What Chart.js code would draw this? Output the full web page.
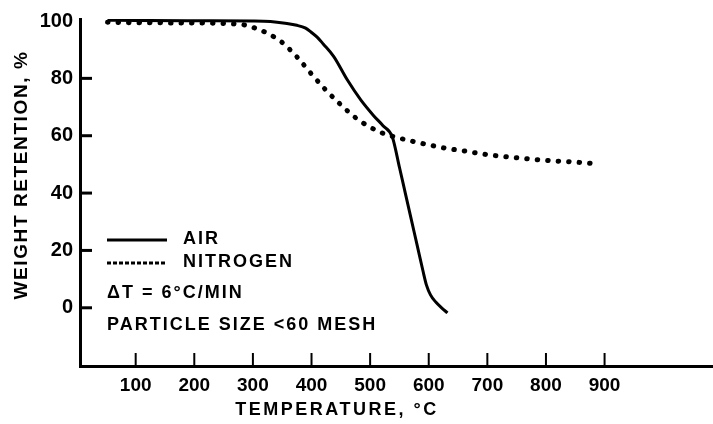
<!DOCTYPE html>
<html>
<head>
<meta charset="utf-8">
<script src="https://cdn.jsdelivr.net/npm/chart.js@4.4.1/dist/chart.umd.min.js"></script>
<style>
  html, body { margin: 0; padding: 0; background: #fff; }
  #wrap { width: 713px; height: 424px; }
</style>
</head>
<body>
<div id="wrap"><canvas id="weightChart"></canvas></div>
<script>
// weight retention vs temperature
const airTemp = [52, 100, 200, 300, 330, 355, 375, 390, 400, 410, 420, 438, 461, 484, 506, 522, 538, 550, 560, 570, 580, 590, 596, 603, 612, 622, 632];
const airWeight = [100.3, 100.2, 100.1, 100, 99.8, 99.2, 98.5, 97.5, 96, 94.3, 92, 87.6, 79.5, 72.5, 67, 63.5, 59.5, 49, 40, 31, 22, 13, 8, 4.5, 2, 0, -1.8];

const nitrogenTemp = [52, 100, 200, 280, 300, 325, 350, 375, 400, 425, 450, 475, 500, 520, 538, 569, 600, 630, 660, 700, 750, 800, 850, 882];
const nitrogenWeight = [99.6, 99.4, 99.3, 98.8, 97.8, 95.7, 92.5, 87.5, 81.5, 75.8, 70.8, 66.3, 63, 61, 59.8, 58.2, 56.8, 55.6, 54.7, 53.4, 52.3, 51.4, 50.8, 50.3];

const xTickValues = [100, 200, 300, 400, 500, 600, 700, 800, 900];
const yTickValues = [0, 20, 40, 60, 80, 100];

const seriesLabels = ['AIR', 'NITROGEN'];
const conditionNotes = ['\u0394T = 6\u00B0C/MIN', 'PARTICLE SIZE <60 MESH'];
const xTitle = 'TEMPERATURE, \u00B0C';
const yTitle = 'WEIGHT RETENTION, %';

const fontFamily = '"Liberation Sans", Arial, sans-serif';
const toPoints = (xs, ys) => xs.map((x, i) => ({ x: x, y: ys[i] }));

// inward tick marks, inset legend, axis titles
const decorations = {
  id: 'decorations',
  afterDraw(chart) {
    const ctx = chart.ctx;
    const xs = chart.scales.x;
    const ys = chart.scales.y;
    const area = chart.chartArea;
    ctx.save();
    ctx.strokeStyle = '#000';
    ctx.fillStyle = '#000';

    ctx.lineWidth = 3;
    yTickValues.filter(v => v < 100).forEach(v => {
      const py = ys.getPixelForValue(v);
      ctx.beginPath();
      ctx.moveTo(area.left, py);
      ctx.lineTo(area.left + 12, py);
      ctx.stroke();
    });
    ctx.lineWidth = 2;
    xTickValues.forEach(v => {
      const px = xs.getPixelForValue(v);
      ctx.beginPath();
      ctx.moveTo(px, area.bottom);
      ctx.lineTo(px, area.bottom - 13);
      ctx.stroke();
    });

    // legend samples
    const lx = area.left + 27;
    ctx.lineWidth = 3;
    ctx.beginPath();
    ctx.moveTo(lx, 240);
    ctx.lineTo(lx + 60, 240);
    ctx.stroke();
    ctx.setLineDash([4, 2]);
    ctx.beginPath();
    ctx.moveTo(lx, 263);
    ctx.lineTo(lx + 60, 263);
    ctx.stroke();
    ctx.setLineDash([]);

    ctx.font = 'bold 18px ' + fontFamily;
    ctx.letterSpacing = '2px';
    ctx.textBaseline = 'middle';
    ctx.textAlign = 'left';
    ctx.fillText(seriesLabels[0], lx + 76, 239);
    ctx.fillText(seriesLabels[1], lx + 76, 262);
    ctx.fillText(conditionNotes[0], lx, 293);
    ctx.fillText(conditionNotes[1], lx, 325);

    ctx.letterSpacing = '2.5px';
    ctx.textAlign = 'center';
    ctx.fillText(xTitle, 337, 410);

    ctx.font = 'bold 19px ' + fontFamily;
    ctx.letterSpacing = '1.6px';
    ctx.translate(22, 175);
    ctx.rotate(-Math.PI / 2);
    ctx.fillText(yTitle, 0, 0);
    ctx.restore();
  }
};

new Chart(document.getElementById('weightChart'), {
  type: 'line',
  data: {
    datasets: [
      {
        label: seriesLabels[0],
        data: toPoints(airTemp, airWeight),
        borderColor: '#000',
        borderWidth: 3,
        pointRadius: 0,
        cubicInterpolationMode: 'monotone',
        fill: false,
      },
      {
        label: seriesLabels[1],
        data: toPoints(nitrogenTemp, nitrogenWeight),
        borderColor: '#000',
        borderWidth: 5,
        borderDash: [0.5, 10],
        borderCapStyle: 'round',
        pointRadius: 0,
        cubicInterpolationMode: 'monotone',
        fill: false,
      },
    ],
  },
  options: {
    responsive: true,
    maintainAspectRatio: false,
    animation: false,
    layout: { padding: { top: 15, right: 0, bottom: 0, left: 0 } },
    plugins: {
      legend: { display: false },
      tooltip: { enabled: false },
    },
    scales: {
      x: {
        type: 'linear',
        min: 5,
        max: 1085,
        afterBuildTicks: (scale) => { scale.ticks = xTickValues.map(v => ({ value: v })); },
        afterFit: (scale) => { scale.height = 58; },
        grid: { drawOnChartArea: false, drawTicks: false },
        border: { display: true, color: '#000', width: 3 },
        ticks: {
          color: '#000',
          padding: 8,
          maxRotation: 0,
          autoSkip: false,
          font: { family: fontFamily, size: 19, weight: 'bold' },
        },
      },
      y: {
        type: 'linear',
        min: -20.3,
        max: 100.7,
        afterBuildTicks: (scale) => { scale.ticks = yTickValues.map(v => ({ value: v })); },
        afterFit: (scale) => { scale.width = 80; },
        grid: { drawOnChartArea: false, drawTicks: false },
        border: { display: true, color: '#000', width: 3 },
        ticks: {
          color: '#000',
          padding: 7,
          font: { family: fontFamily, size: 20, weight: 'bold' },
        },
      },
    },
  },
  plugins: [decorations],
});
</script>
</body>
</html>
